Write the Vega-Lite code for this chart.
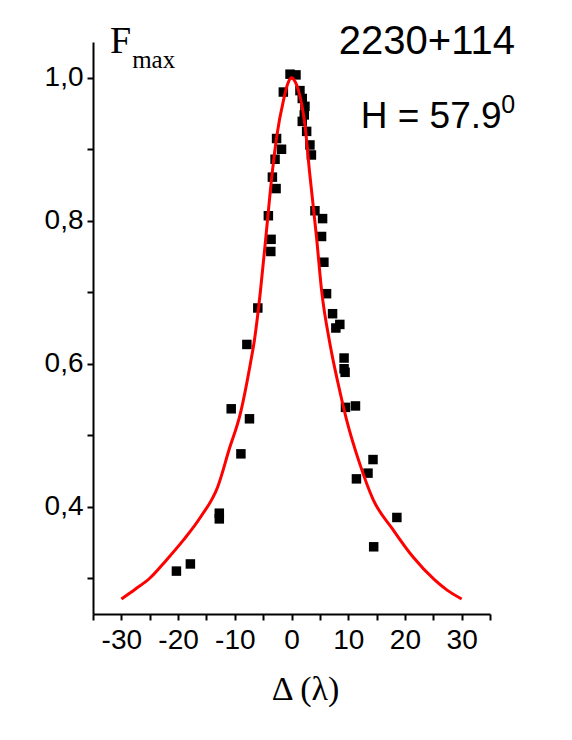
{
  "$schema": "https://vega.github.io/schema/vega-lite/v6.json",
  "width": 397,
  "height": 572,
  "autosize": "none",
  "padding": {"left": 93, "top": 42, "right": 82, "bottom": 126},
  "background": "white",
  "config": {
    "view": {"stroke": null},
    "axis": {
      "grid": false,
      "domainColor": "black",
      "domainWidth": 2,
      "tickColor": "black",
      "tickWidth": 2,
      "tickSize": 6,
      "labelFont": "Liberation Sans",
      "labelFontSize": 28,
      "labelColor": "black",
      "titleColor": "black"
    }
  },
  "datasets": {
    "points": [
      {"d": -0.26, "f": 1.005}, {"d": 0.79, "f": 1.004}, {"d": -1.44, "f": 0.980}, {"d": 1.49, "f": 0.982},
      {"d": 1.90, "f": 0.971}, {"d": 2.37, "f": 0.960}, {"d": 2.25, "f": 0.948}, {"d": 1.90, "f": 0.939},
      {"d": 2.67, "f": 0.925}, {"d": 3.25, "f": 0.906}, {"d": 3.51, "f": 0.892}, {"d": -2.63, "f": 0.915},
      {"d": -1.76, "f": 0.900}, {"d": -2.90, "f": 0.886}, {"d": -3.37, "f": 0.861}, {"d": -2.72, "f": 0.845},
      {"d": -4.08, "f": 0.807}, {"d": -3.60, "f": 0.774}, {"d": -3.65, "f": 0.757}, {"d": -5.94, "f": 0.678},
      {"d": -7.87, "f": 0.627}, {"d": -10.63, "f": 0.537}, {"d": -7.41, "f": 0.523}, {"d": -8.92, "f": 0.474},
      {"d": -12.73, "f": 0.391}, {"d": -12.73, "f": 0.383}, {"d": -17.83, "f": 0.320}, {"d": -20.29, "f": 0.310},
      {"d": 4.13, "f": 0.814}, {"d": 5.48, "f": 0.803}, {"d": 5.30, "f": 0.778}, {"d": 5.71, "f": 0.742},
      {"d": 6.18, "f": 0.698}, {"d": 7.24, "f": 0.670}, {"d": 7.82, "f": 0.650}, {"d": 8.52, "f": 0.655},
      {"d": 9.27, "f": 0.608}, {"d": 9.27, "f": 0.593}, {"d": 9.45, "f": 0.588}, {"d": 9.52, "f": 0.539},
      {"d": 11.28, "f": 0.541}, {"d": 14.37, "f": 0.466}, {"d": 13.49, "f": 0.447}, {"d": 11.45, "f": 0.439},
      {"d": 18.58, "f": 0.385}, {"d": 14.49, "f": 0.344}
    ],
    "curve": [
      {"d": -30, "f": 0.271}, {"d": -27.5, "f": 0.285}, {"d": -25, "f": 0.300}, {"d": -22, "f": 0.326},
      {"d": -19, "f": 0.354}, {"d": -16, "f": 0.386}, {"d": -13, "f": 0.428}, {"d": -11, "f": 0.480},
      {"d": -9, "f": 0.531}, {"d": -7.3, "f": 0.598}, {"d": -6.5, "f": 0.635}, {"d": -5.5, "f": 0.700},
      {"d": -4.4, "f": 0.787}, {"d": -3.4, "f": 0.867}, {"d": -2.6, "f": 0.918}, {"d": -1.4, "f": 0.969},
      {"d": -0.6, "f": 0.993}, {"d": 0, "f": 1.0}, {"d": 0.6, "f": 0.995}, {"d": 1.2, "f": 0.983},
      {"d": 2.4, "f": 0.932}, {"d": 3.2, "f": 0.867}, {"d": 4.4, "f": 0.778}, {"d": 5.3, "f": 0.703},
      {"d": 6.8, "f": 0.627}, {"d": 8.2, "f": 0.573}, {"d": 9.7, "f": 0.522}, {"d": 12, "f": 0.461},
      {"d": 14.4, "f": 0.410}, {"d": 17.9, "f": 0.368}, {"d": 21.4, "f": 0.330}, {"d": 25.2, "f": 0.298},
      {"d": 27.5, "f": 0.283}, {"d": 30, "f": 0.271}
    ]
  },
  "layer": [
    {
      "data": {"name": "points"},
      "mark": {"type": "point", "shape": "square", "filled": true, "color": "black", "opacity": 1, "size": 90},
      "encoding": {
        "x": {
          "field": "d", "type": "quantitative",
          "scale": {"domain": [-35, 35], "nice": false, "zero": false},
          "axis": {
            "values": [-35, -30, -25, -20, -15, -10, -5, 0, 5, 10, 15, 20, 25, 30, 35],
            "tickCount": 30,
            "labelExpr": "abs(round(datum.value)) % 10 == 0 ? replace(format(datum.value, 'd'), '\u2212', '-') : ''",
            "labelPadding": 6,
            "labelFlush": false,
            "labelOverlap": false,
            "labelBound": false,
            "title": "Δ (λ)",
            "titleFont": "Liberation Serif",
            "titleFontSize": 34,
            "titleFontWeight": "normal",
            "titlePadding": 18,
            "titleX": 212
          }
        },
        "y": {
          "field": "f", "type": "quantitative",
          "scale": {"domain": [0.25, 1.05], "nice": false, "zero": false},
          "axis": {
            "values": [0.3, 0.4, 0.5, 0.6, 0.7, 0.8, 0.9, 1.0],
            "tickCount": 30,
            "labelExpr": "round(datum.value * 10) % 2 === 0 ? replace(format(datum.value, '.1f'), '.', ',') : ''",
            "labelPadding": 4,
            "labelFlush": false,
            "labelOverlap": false,
            "title": null
          }
        }
      }
    },
    {
      "data": {"name": "curve"},
      "mark": {"type": "line", "color": "#ff0000", "strokeWidth": 3, "interpolate": "monotone"},
      "encoding": {
        "x": {"field": "d", "type": "quantitative"},
        "y": {"field": "f", "type": "quantitative"}
      }
    },
    {
      "data": {"values": [{"t": "F"}]},
      "mark": {"type": "text", "font": "Liberation Serif", "fontSize": 38, "align": "left", "baseline": "alphabetic", "color": "black"},
      "encoding": {"x": {"datum": -32.0}, "y": {"datum": 1.035}, "text": {"field": "t"}}
    },
    {
      "data": {"values": [{"t": "max"}]},
      "mark": {"type": "text", "font": "Liberation Serif", "fontSize": 25, "align": "left", "baseline": "alphabetic", "color": "black"},
      "encoding": {"x": {"datum": -28.1}, "y": {"datum": 1.0135}, "text": {"field": "t"}}
    },
    {
      "data": {"values": [{"t": "2230+114"}]},
      "mark": {"type": "text", "font": "Liberation Sans", "fontSize": 40, "align": "right", "baseline": "alphabetic", "color": "black"},
      "encoding": {"x": {"datum": 39.4}, "y": {"datum": 1.033}, "text": {"field": "t"}}
    },
    {
      "data": {"values": [{"t": "H = 57.9"}]},
      "mark": {"type": "text", "font": "Liberation Sans", "fontSize": 37, "align": "left", "baseline": "alphabetic", "color": "black"},
      "encoding": {"x": {"datum": 12.2}, "y": {"datum": 0.930}, "text": {"field": "t"}}
    },
    {
      "data": {"values": [{"t": "0"}]},
      "mark": {"type": "text", "font": "Liberation Sans", "fontSize": 25, "align": "left", "baseline": "alphabetic", "color": "black"},
      "encoding": {"x": {"datum": 37.0}, "y": {"datum": 0.951}, "text": {"field": "t"}}
    }
  ]
}
